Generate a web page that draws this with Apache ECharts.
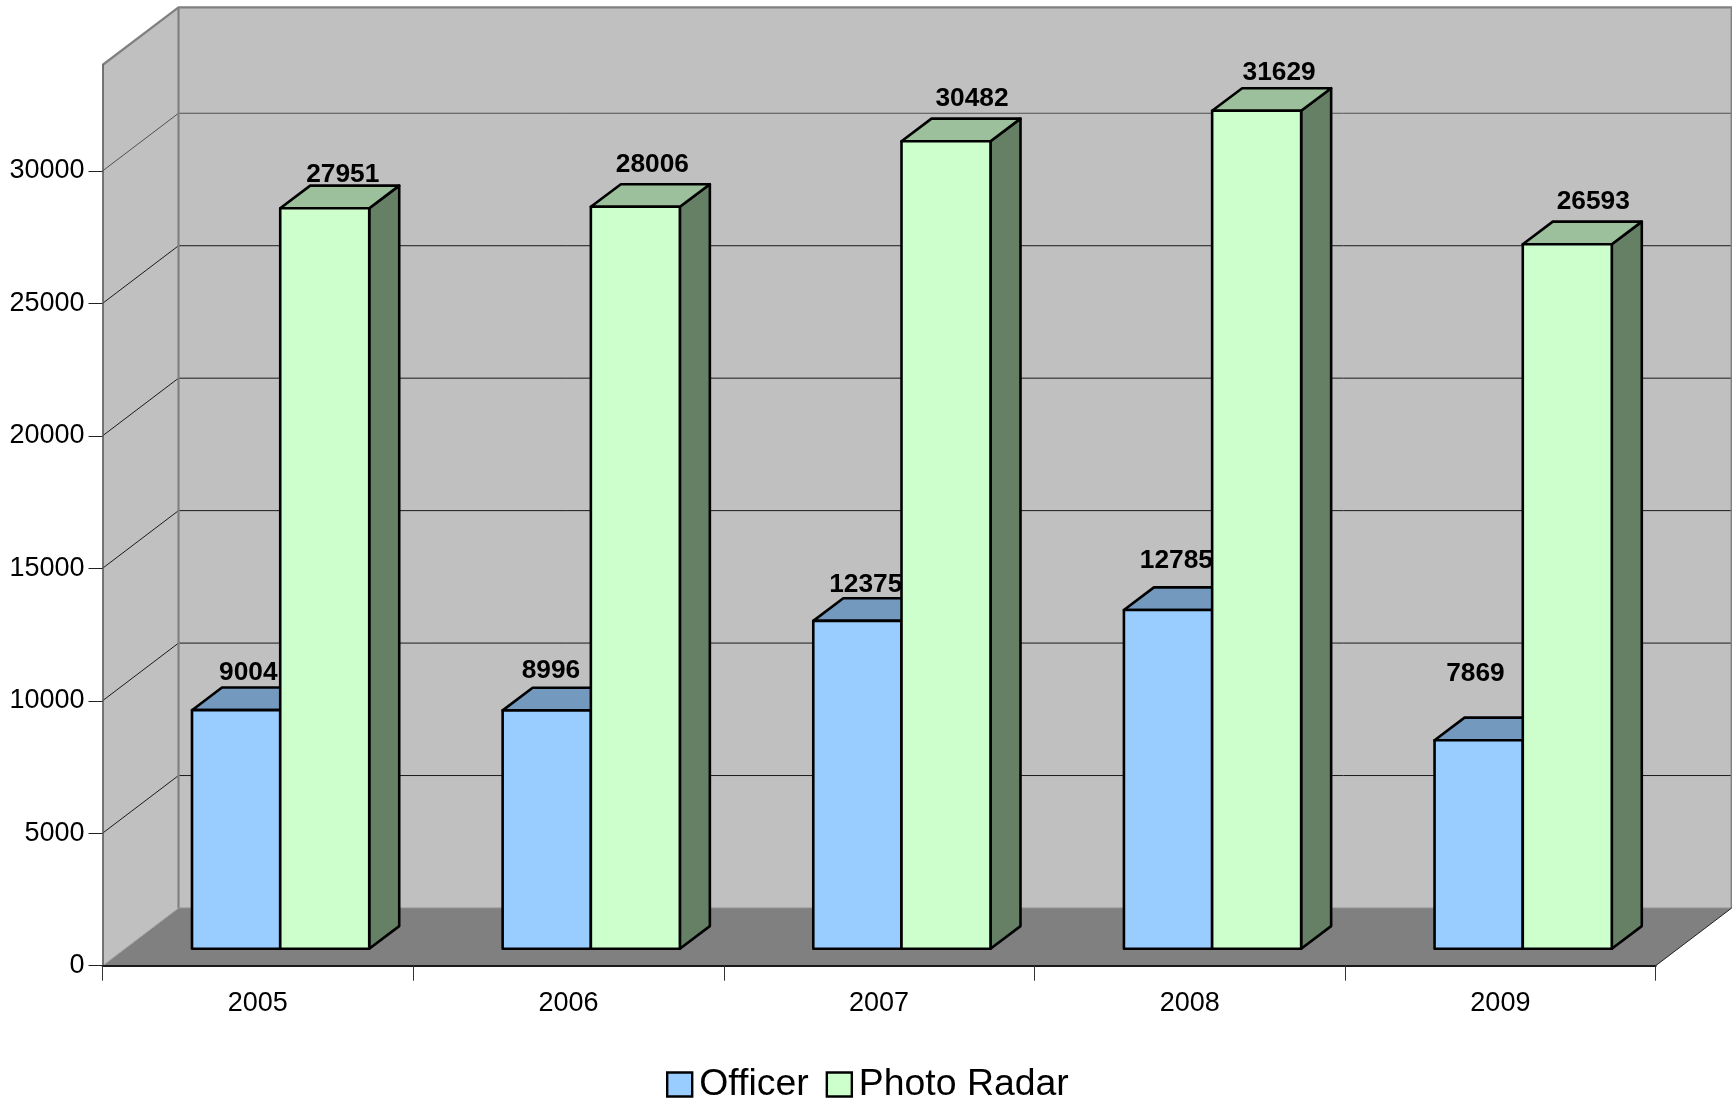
<!DOCTYPE html>
<html><head><meta charset="utf-8">
<style>html,body{margin:0;padding:0;background:#fff}#c{width:1732px;height:1105px}</style>
<script src="https://cdn.jsdelivr.net/npm/echarts@6/dist/echarts.min.js"></script>
</head><body><div id="c"></div>
<script>
const categories = ['2005','2006','2007','2008','2009'];
const officer = [9004,8996,12375,12785,7869];
const photoRadar = [27951,28006,30482,31629,26593];
const yTicks = [0,5000,10000,15000,20000,25000,30000];
const yMax = 34000;

// presentation constants (pseudo-3D projection)
const WALL = [76,-57.7], BASE = [22.4,-17], BAR = [30,-22.6];
const FONT = '"Liberation Sans", Arial, sans-serif';
const officerNudge = [[12.6,-15],[4.6,-17.3],[8.7,-13.5],[8.7,-26.5],[-2.9,-43.5]];
const radarNudge = [[18,-10.5],[17,-19.5],[26,-20],[22.5,-15],[26,-19.5]];

function backdrop(params, api){
  const cs = params.coordSys, L=cs.x, R=cs.x+cs.width;
  const Y0=api.coord([0,0])[1], YT=api.coord([0,yMax])[1];
  const [dx,dy]=WALL, kids=[];
  kids.push({type:'polygon',shape:{points:[[L,Y0],[L+dx,Y0+dy],[L+dx,YT+dy],[L,YT]]},style:{fill:'#c0c0c0',stroke:'none'}});
  kids.push({type:'polygon',shape:{points:[[L+dx,Y0+dy],[R+dx,Y0+dy],[R+dx,YT+dy],[L+dx,YT+dy]]},style:{fill:'#c0c0c0',stroke:'none'}});
  kids.push({type:'polygon',shape:{points:[[L,Y0],[R,Y0],[R+dx,Y0+dy],[L+dx,Y0+dy]]},style:{fill:'#808080',stroke:'none'}});
  yTicks.slice(1).forEach(v=>{
    const y=api.coord([0,v])[1];
    kids.push({type:'polyline',shape:{points:[[L,y],[L+dx,y+dy],[R+dx,y+dy]]},style:{fill:'none',stroke:v===30000?'#505050':'#1a1a1a',lineWidth:1}});
  });
  const g={fill:'none',stroke:'#808080',lineWidth:2.2};
  kids.push({type:'polyline',shape:{points:[[L,YT],[L+dx,YT+dy],[R+dx,YT+dy],[R+dx,Y0+dy]]},style:g});
  kids.push({type:'polyline',shape:{points:[[L+dx,YT+dy],[L+dx,Y0+dy]]},style:g});
  kids.push({type:'polyline',shape:{points:[[L,Y0],[L+dx,Y0+dy]]},style:{fill:'none',stroke:'#a8a8a8',lineWidth:1}});
  kids.push({type:'polyline',shape:{points:[[L+dx,Y0+dy],[R+dx,Y0+dy]]},style:{fill:'none',stroke:'#909090',lineWidth:1}});
  kids.push({type:'polyline',shape:{points:[[R,Y0],[R+dx,Y0+dy]]},style:{fill:'none',stroke:'#222',lineWidth:1}});
  return {type:'group',children:kids};
}

function barRenderer(side, ratio, front, top, sideCol, nudge){
  return function(params, api){
    const i=api.value(0), v=api.value(1);
    const c=api.coord([i,v]), b=api.coord([i,0]);
    const full=api.size([1,0])[0], w=full*ratio, ref=full*0.2865;
    const x0=c[0]+BASE[0]+(side<0?-w:0), x1=x0+w;
    const yt=c[1]+BASE[1], yb=b[1]+BASE[1], [dx,dy]=BAR;
    const line={stroke:'#000',lineWidth:2.6,lineJoin:'round'};
    const n=nudge[params.dataIndex];
    const cx=side<0 ? x1-ref/2 : x0+ref/2;
    return {type:'group',children:[
      {type:'polygon',shape:{points:[[x1,yt],[x1+dx,yt+dy],[x1+dx,yb+dy],[x1,yb]]},style:{fill:sideCol,...line}},
      {type:'polygon',shape:{points:[[x0,yt],[x1,yt],[x1+dx,yt+dy],[x0+dx,yt+dy]]},style:{fill:top,...line}},
      {type:'rect',shape:{x:x0,y:yt,width:w,height:yb-yt},style:{fill:front,...line}},
      {type:'text',z2:50,style:{text:String(v),x:cx+n[0],y:yt+dy+n[1],align:'center',verticalAlign:'middle',
        fill:'#000',fontFamily:FONT,fontWeight:'bold',fontSize:26.3}}
    ]};
  };
}

const chart=echarts.init(document.getElementById('c'),null,{renderer:'canvas'});
chart.setOption({
  animation:false,
  backgroundColor:'#ffffff',
  textStyle:{fontFamily:FONT},
  grid:{left:102.5,right:76.3,top:65,bottom:139.3,containLabel:false},
  xAxis:{type:'category',data:categories,z:10,
    axisLine:{show:true,lineStyle:{color:'#1a1a1a',width:2}},
    axisTick:{show:true,alignWithLabel:false,length:15,lineStyle:{color:'#333',width:1}},
    axisLabel:{color:'#000',fontSize:27,fontFamily:FONT,margin:24,interval:0},
    splitLine:{show:false}},
  yAxis:{type:'value',min:0,max:yMax,interval:5000,z:10,
    axisLine:{show:true,onZero:false,lineStyle:{color:'#555',width:1.5}},
    axisTick:{show:true,length:14,customValues:yTicks,lineStyle:{color:'#222',width:1}},
    axisLabel:{color:'#000',fontSize:27,fontFamily:FONT,margin:18,customValues:yTicks,formatter:v=>String(v)},
    splitLine:{show:false}},
  legend:{left:666,top:1066,padding:0,itemWidth:25,itemHeight:24,itemGap:17,
    textStyle:{fontSize:37.4,color:'#000',fontFamily:FONT,padding:[10.5,0,0,2]},
    data:[
      {name:'Officer',icon:'rect',itemStyle:{color:'#99ccff',borderColor:'#000',borderWidth:2.4}},
      {name:'Photo Radar',icon:'rect',itemStyle:{color:'#ccffcc',borderColor:'#000',borderWidth:2.4}}
    ]},
  tooltip:{show:false},
  series:[
    {type:'custom',name:'backdrop',silent:true,data:[[0,0]],renderItem:backdrop,encode:{x:0,y:1},z:1},
    {type:'custom',name:'Officer',itemStyle:{color:'#99ccff'},data:officer.map((v,i)=>[i,v]),encode:{x:0,y:1},z:2,
      renderItem:barRenderer(-1,0.284,'#99ccff','#7399bf','#4d6680',officerNudge)},
    {type:'custom',name:'Photo Radar',itemStyle:{color:'#ccffcc'},data:photoRadar.map((v,i)=>[i,v]),encode:{x:0,y:1},z:3,
      renderItem:barRenderer(1,0.2865,'#ccffcc','#9cc09c','#668066',radarNudge)}
  ]
});
</script></body></html>
